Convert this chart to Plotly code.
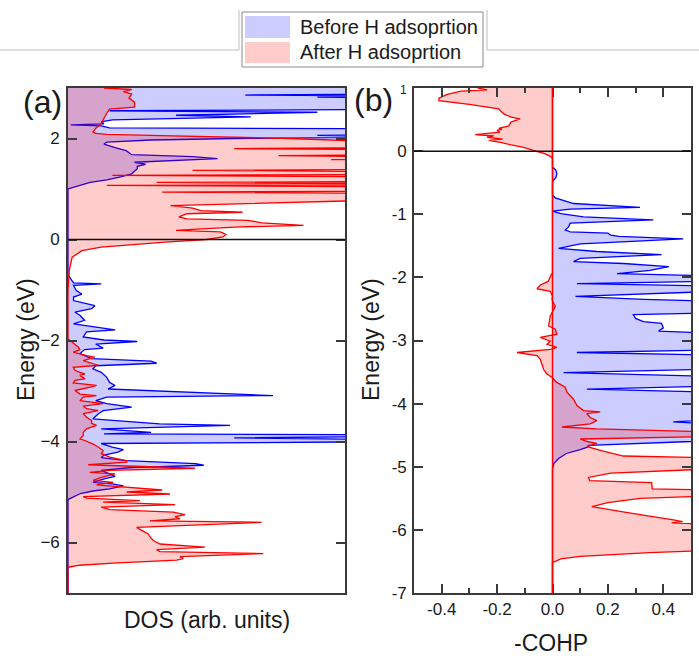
import plotly.graph_objects as go

# ---------------- Panel (a): density of states (arb. units) ----------------
dos_before_energy = [
    3.00, 2.88, 2.86, 2.84, 2.82, 2.80, 2.58, 2.55, 2.52, 2.49, 2.46, 2.43, 2.40, 2.37,
    2.33, 2.29, 2.27, 2.25, 2.21, 2.19, 2.08, 2.06, 2.03, 2.00, 1.97, 1.93, 1.89, 1.82,
    1.76, 1.68, 1.64, 1.60, 1.57, 1.53, 1.49, 1.45, 1.40, 1.30, 1.24, 1.18, 1.13, 1.06,
    1.00, -0.70, -0.81, -0.86, -0.88, -0.91, -1.01, -1.08, -1.14, -1.21, -1.31, -1.37,
    -1.44, -1.50, -1.60, -1.67, -1.79, -1.83, -1.93, -1.99, -2.02, -2.07, -2.15, -2.18,
    -2.26, -2.36, -2.41, -2.45, -2.50, -2.56, -2.63, -2.73, -2.83, -2.89, -2.96, -3.09,
    -3.12, -3.19, -3.25, -3.32, -3.39, -3.45, -3.55, -3.65, -3.68, -3.75, -3.82, -3.85,
    -3.87, -3.89, -3.93, -3.97, -4.00, -4.04, -4.11, -4.16, -4.21, -4.27, -4.32, -4.38,
    -4.44, -4.47, -4.52, -4.57, -4.64, -4.69, -4.74, -4.81, -4.84, -4.88, -4.94, -4.98,
    -5.03, -5.10, -5.15, -7.00,
]
dos_before = [
    1.30, 1.30, 0.64, 1.30, 0.90, 1.30, 1.30, 0.15, 0.90, 0.60, 0.39, 0.66, 0.45, 0.16,
    0.12, 0.13, 0.01, 0.12, 0.15, 1.30, 1.30, 0.90, 1.30, 0.60, 0.30, 0.14, 0.13, 0.17,
    0.21, 0.23, 0.45, 0.54, 0.40, 0.24, 0.28, 0.25, 0.25, 0.23, 0.19, 0.14, 0.08, 0.04,
    0.00, 0.00, 0.013, 0.02, 0.12, 0.02, 0.03, 0.05, 0.02, 0.02, 0.097, 0.085,
    0.025, 0.043, 0.06, 0.02, 0.17, 0.067, 0.055, 0.13, 0.25, 0.10, 0.127, 0.06,
    0.043, 0.085, 0.30, 0.32, 0.10, 0.09, 0.12, 0.14, 0.15, 0.17, 0.145, 0.74,
    0.14, 0.10, 0.14, 0.23, 0.127, 0.11, 0.09, 0.33, 0.585, 0.12, 0.30, 0.13,
    1.30, 1.30, 0.60, 1.30, 1.30, 0.12, 0.16, 0.20, 0.18, 0.13, 0.12, 0.21,
    0.46, 0.49, 0.22, 0.12, 0.15, 0.17, 0.13, 0.09, 0.16, 0.20, 0.15, 0.09,
    0.045, 0.015, 0.00, 0.00,
]

dos_after_energy = [
    3.00, 2.97, 2.93, 2.88, 2.80, 2.72, 2.62, 2.58, 2.50, 2.40, 2.30, 2.20, 2.13, 2.10,
    2.08, 2.06, 2.03, 2.00, 1.96, 1.95, 1.82, 1.80, 1.77, 1.68, 1.66, 1.63, 1.58, 1.55,
    1.39, 1.37, 1.34, 1.29, 1.27, 1.24, 1.15, 1.13, 1.10, 1.08, 1.07, 1.04, 0.96, 0.94,
    0.91, 0.77, 0.67, 0.62, 0.57, 0.54, 0.51, 0.45, 0.41, 0.38, 0.33, 0.28, 0.25, 0.20,
    0.18, 0.15, 0.10, 0.05, 0.02, 0.00, -0.05, -0.10, -0.15, -0.22, -0.35, -0.60, -1.00,
    -1.97, -2.00, -2.07, -2.13, -2.18, -2.23, -2.30, -2.33, -2.40, -2.49, -2.53, -2.59,
    -2.63, -2.66, -2.69, -2.76, -2.79, -2.84, -2.89, -2.92, -2.99, -3.06, -3.09, -3.12,
    -3.19, -3.25, -3.30, -3.35, -3.39, -3.45, -3.52, -3.58, -3.64, -3.68, -3.75, -3.82,
    -3.88, -3.95, -3.98, -4.05, -4.11, -4.18, -4.24, -4.31, -4.38, -4.41, -4.46, -4.53,
    -4.57, -4.61, -4.64, -4.71, -4.77, -4.81, -4.86, -4.90, -4.96, -5.00, -5.04, -5.09,
    -5.12, -5.17, -5.20, -5.25, -5.30, -5.35, -5.40, -5.45, -5.49, -5.53, -5.57, -5.60,
    -5.65, -5.70, -5.76, -5.83, -5.89, -5.96, -6.03, -6.09, -6.14, -6.18, -6.22, -6.28,
    -6.32, -6.35, -6.41, -6.45, -6.49, -7.00,
]
dos_after = [
    0.13, 0.23, 0.20, 0.23, 0.22, 0.24, 0.24, 0.15, 0.14, 0.13, 0.12, 0.10, 0.09, 0.10,
    0.14, 0.30, 0.55, 0.80, 1.00, 1.30, 1.30, 0.60, 1.30, 1.30, 0.76, 1.30, 0.95, 1.30,
    1.30, 0.45, 1.30, 1.30, 0.16, 1.30, 1.30, 0.32, 1.30, 1.30, 0.14, 1.30, 1.30, 0.34,
    1.30, 1.05, 0.37, 0.45, 0.48, 0.63, 0.43, 0.40, 0.43, 0.65, 0.70, 0.85, 0.62, 0.45,
    0.39, 0.55, 0.57, 0.56, 0.53, 0.50, 0.35, 0.22, 0.12, 0.05, 0.015, 0.005, 0.00,
    0.00, 0.007, 0.019, 0.037, 0.043, 0.019, 0.067, 0.097, 0.055, 0.109, 0.019, 0.025,
    0.043, 0.061, 0.043, 0.061, 0.025, 0.019, 0.103, 0.085, 0.025, 0.043, 0.103, 0.055,
    0.043, 0.127, 0.055, 0.067, 0.109, 0.055, 0.067, 0.085, 0.085, 0.103, 0.067, 0.055,
    0.055, 0.043, 0.061, 0.091, 0.109, 0.127, 0.12, 0.151, 0.212, 0.212, 0.073, 0.458,
    0.15, 0.079, 0.17, 0.12, 0.091, 0.163, 0.103, 0.212, 0.34, 0.212, 0.368, 0.055,
    0.067, 0.26, 0.127, 0.386, 0.12, 0.151, 0.38, 0.422, 0.386, 0.404, 0.296, 0.699,
    0.452, 0.248, 0.266, 0.29, 0.296, 0.308, 0.332, 0.494, 0.32, 0.332, 0.705, 0.404,
    0.416, 0.392, 0.163, 0.043, 0.00, 0.00,
]

# ---------------- Panel (b): -COHP ----------------
cohp_before_energy = [
    1.00, -0.25, -0.30, -0.36, -0.42, -0.47, -0.50, -0.70, -0.74, -0.78, -0.83, -0.89,
    -0.92, -0.95, -0.99, -1.04, -1.09, -1.14, -1.20, -1.25, -1.28, -1.30, -1.33, -1.35,
    -1.39, -1.47, -1.54, -1.59, -1.64, -1.70, -1.75, -1.78, -1.83, -1.89, -1.94, -1.98,
    -2.06, -2.10, -2.14, -2.22, -2.30, -2.35, -2.38, -2.56, -2.59, -2.65, -2.70, -2.73,
    -2.80, -2.85, -2.89, -3.15, -3.19, -3.23, -3.45, -3.51, -3.57, -3.72, -3.77, -3.82,
    -4.25, -4.29, -4.33, -4.56, -4.60, -4.66, -4.69, -4.73, -4.79, -4.87, -4.95, -5.03,
    -7.00,
]
cohp_before = [
    0.00, 0.00, 0.012, 0.016, 0.012, 0.002, 0.00, 0.00, 0.01, 0.040, 0.076, 0.316,
    0.064, 0.00, 0.03, 0.112, 0.364, 0.064, 0.058, 0.046, 0.064, 0.20, 0.21, 0.24,
    0.472, 0.10, 0.022, 0.16, 0.394, 0.10, 0.076, 0.256, 0.42, 0.352, 0.233, 0.60,
    0.60, 0.088, 0.60, 0.60, 0.083, 0.33, 0.60, 0.60, 0.292, 0.30, 0.328, 0.394,
    0.40, 0.383, 0.60, 0.60, 0.088, 0.60, 0.60, 0.04, 0.60, 0.60, 0.124, 0.60,
    0.60, 0.436, 0.60, 0.60, 0.50, 0.13, 0.126, 0.10, 0.05, 0.022, 0.005, 0.00,
    0.00,
]

cohp_after_energy = [
    1.00, 0.97, 0.95, 0.90, 0.84, 0.80, 0.74, 0.67, 0.64, 0.59, 0.54, 0.51, 0.46, 0.40,
    0.36, 0.35, 0.33, 0.30, 0.26, 0.24, 0.22, 0.19, 0.17, 0.14, 0.10, 0.06, 0.01, -0.04,
    -0.09, -0.12, -1.93, -1.96, -2.06, -2.12, -2.18, -2.22, -2.30, -2.35, -2.46, -2.61,
    -2.77, -2.82, -2.90, -2.95, -3.01, -3.06, -3.11, -3.14, -3.19, -3.24, -3.30, -3.38,
    -3.46, -3.53, -3.59, -3.66, -3.74, -3.82, -3.93, -4.03, -4.11, -4.13, -4.16, -4.22,
    -4.27, -4.32, -4.37, -4.40, -4.45, -4.52, -4.56, -4.60, -4.63, -4.68, -4.75, -4.83,
    -4.86, -5.03, -5.10, -5.17, -5.22, -5.25, -5.35, -5.37, -5.46, -5.50, -5.57, -5.63,
    -5.72, -5.84, -5.87, -5.89, -5.92, -6.32, -6.36, -6.42, -6.46, -6.52, -7.00,
]
cohp_after = [
    -0.27, -0.236, -0.33, -0.38, -0.41, -0.41, -0.30, -0.194, -0.188, -0.176, -0.15, -0.117,
    -0.15, -0.158, -0.194, -0.182, -0.20, -0.19, -0.279, -0.212, -0.236, -0.18, -0.23,
    -0.188, -0.15, -0.104, -0.07, -0.028, -0.005, 0.00, 0.00, -0.005, -0.015, -0.044,
    -0.056, -0.008, 0.00, -0.002, 0.010, -0.008, -0.014, 0.010, 0.016, -0.044, -0.008,
    -0.020, 0.016, -0.008, -0.128, -0.056, -0.044, -0.038, -0.032, -0.020, 0.00, 0.014,
    0.046, 0.052, 0.076, 0.088, 0.112, 0.172, 0.124, 0.136, 0.16, 0.136, 0.034, 0.16,
    0.60, 0.60, 0.10, 0.125, 0.16, 0.125, 0.18, 0.256, 0.60, 0.60, 0.21, 0.13, 0.134,
    0.358, 0.36, 0.60, 0.60, 0.316, 0.20, 0.142, 0.26, 0.436, 0.47, 0.43, 0.60, 0.60,
    0.35, 0.10, 0.03, 0.00, 0.00,
]

series_names = ["Before H adsoprtion", "After H adsoprtion"]
panel_labels = ["(a)", "(b)"]
dos_yticks = [-6, -4, -2, 0, 2]
cohp_xticks = [-0.4, -0.2, 0.0, 0.2, 0.4]
cohp_yticks = [-7, -6, -5, -4, -3, -2, -1, 0, 1]

W, H = 699, 656
BLUE, RED = "#0000ff", "#ff0000"
BLUE_FILL, RED_FILL = "rgba(0,0,255,0.2)", "rgba(255,0,0,0.2)"
FONT = "Liberation Sans, Arial, sans-serif"
AXIS_COLOR = "#3a3a3a"
TEXT_COLOR = "#1a1a1a"


def fx(px):
    return px / W


def fy(py):
    return 1 - py / H


fig = go.Figure()

for xs, ys, color, fill, xa, ya, name in [
    (dos_before, dos_before_energy, BLUE, BLUE_FILL, "x", "y", series_names[0]),
    (dos_after, dos_after_energy, RED, RED_FILL, "x", "y", series_names[1]),
    (cohp_before, cohp_before_energy, BLUE, BLUE_FILL, "x2", "y2", series_names[0]),
    (cohp_after, cohp_after_energy, RED, RED_FILL, "x2", "y2", series_names[1]),
]:
    fig.add_trace(go.Scatter(
        x=xs, y=ys, mode="lines", fill="tozerox", fillcolor=fill,
        line=dict(color=color, width=1.3), xaxis=xa, yaxis=ya,
        name=name, showlegend=False, hoverinfo="skip",
    ))

y_domain = [fy(593), fy(88)]
common_axis = dict(showline=True, linecolor=AXIS_COLOR, linewidth=1.6,
                   showgrid=False, zeroline=False, automargin=False,
                   tickfont=dict(family=FONT, size=17, color=TEXT_COLOR),
                   tickcolor=AXIS_COLOR, tickwidth=1.5)

cohp_ytext = [str(v) for v in cohp_yticks]
cohp_ytext[-1] = '<span style="font-size:12px">1</span>'

fig.update_layout(
    width=W, height=H, margin=dict(l=0, r=0, t=0, b=0, pad=0), autosize=False,
    paper_bgcolor="white", plot_bgcolor="white",
    xaxis=dict(domain=[fx(68), fx(345)], range=[0, 1], showticklabels=False,
               ticks="", mirror=True, **common_axis),
    yaxis=dict(domain=y_domain, range=[-7, 3], tickvals=dos_yticks,
               ticks="inside", ticklen=9, mirror="ticks", ticklabelstandoff=3,
               **common_axis),
    xaxis2=dict(domain=[fx(414), fx(691)], range=[-0.5, 0.5], anchor="y2",
                tickvals=cohp_xticks, ticktext=["%.1f" % v for v in cohp_xticks],
                ticks="inside", ticklen=9, mirror="ticks", ticklabelstandoff=0,
                minor=dict(ticks="inside", ticklen=5, dtick=0.1, tick0=0,
                           tickcolor=AXIS_COLOR, tickwidth=1.5),
                **common_axis),
    yaxis2=dict(domain=y_domain, range=[-7, 1], anchor="x2", tickvals=cohp_yticks,
                ticktext=cohp_ytext, ticks="inside", ticklen=9, mirror="ticks",
                ticklabelstandoff=2, **common_axis),
)

shapes = [
    # Fermi level (E = 0) in both panels and the -COHP = 0 line, above the fills
    dict(type="line", xref="x domain", yref="y", x0=0, x1=1, y0=0, y1=0, layer="above",
         line=dict(color="#111111", width=1.5)),
    dict(type="line", xref="x2", yref="y2 domain", x0=0, x1=0, y0=0, y1=1, layer="above",
         line=dict(color=RED, width=1.5)),
    dict(type="line", xref="x2 domain", yref="y2", x0=0, x1=1, y0=0, y1=0, layer="above",
         line=dict(color="#111111", width=1.5)),
    # thin frame line across the top of the page
    dict(type="line", xref="paper", yref="paper", x0=0, x1=fx(239), y0=fy(50), y1=fy(50),
         line=dict(color="#bdbdbd", width=1)),
    dict(type="line", xref="paper", yref="paper", x0=fx(239), x1=fx(239), y0=fy(10), y1=fy(50),
         line=dict(color="#bdbdbd", width=1)),
    dict(type="line", xref="paper", yref="paper", x0=fx(487), x1=fx(487), y0=fy(10), y1=fy(50),
         line=dict(color="#bdbdbd", width=1)),
    dict(type="line", xref="paper", yref="paper", x0=fx(487), x1=1, y0=fy(50), y1=fy(50),
         line=dict(color="#bdbdbd", width=1)),
    # legend box and swatches
    dict(type="rect", xref="paper", yref="paper", x0=fx(242), x1=fx(483), y0=fy(67), y1=fy(12),
         line=dict(color="#8c8c8c", width=1), fillcolor="white"),
    dict(type="rect", xref="paper", yref="paper", x0=fx(245), x1=fx(290), y0=fy(38), y1=fy(16),
         line=dict(width=0), fillcolor="rgb(204,204,255)"),
    dict(type="rect", xref="paper", yref="paper", x0=fx(245), x1=fx(290), y0=fy(63), y1=fy(42),
         line=dict(width=0), fillcolor="rgb(255,204,204)"),
]
fig.update_layout(shapes=shapes)

ann = []
for text, px, py in [(series_names[0], 298, 27), (series_names[1], 298, 52)]:
    ann.append(dict(text=text, x=fx(px), y=fy(py), xref="paper", yref="paper",
                    xanchor="left", yanchor="middle", showarrow=False,
                    font=dict(family=FONT, size=20, color=TEXT_COLOR)))
for text, px, py in [(panel_labels[0], 42, 102), (panel_labels[1], 373, 100)]:
    ann.append(dict(text=text, x=fx(px), y=fy(py), xref="paper", yref="paper",
                    xanchor="center", yanchor="middle", showarrow=False,
                    font=dict(family=FONT, size=32, color=TEXT_COLOR)))
for px in (26, 371):
    ann.append(dict(text="Energy (eV)", x=fx(px), y=fy(340), xref="paper", yref="paper",
                    xanchor="center", yanchor="middle", textangle=-90, showarrow=False,
                    font=dict(family=FONT, size=23, color=TEXT_COLOR)))
ann.append(dict(text="DOS (arb. units)", x=fx(207), y=fy(620), xref="paper", yref="paper",
                xanchor="center", yanchor="middle", showarrow=False,
                font=dict(family=FONT, size=23, color=TEXT_COLOR)))
ann.append(dict(text="-COHP", x=fx(551), y=fy(643), xref="paper", yref="paper",
                xanchor="center", yanchor="middle", showarrow=False,
                font=dict(family=FONT, size=23, color=TEXT_COLOR)))
fig.update_layout(annotations=ann)

fig.write_html("out.html")
